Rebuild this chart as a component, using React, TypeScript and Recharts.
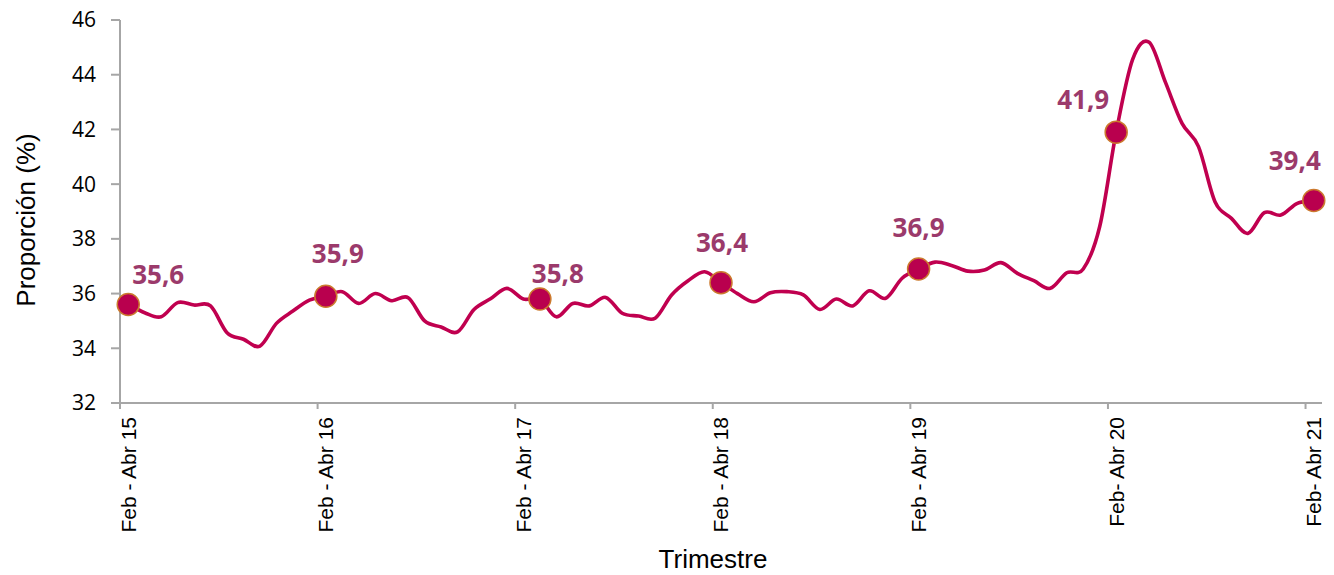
import React from "react";
import { LineChart, Line, XAxis, YAxis } from "recharts";

// rolling quarter, monthly, Feb-Abr 15 .. Feb-Abr 21
const values = [
  35.6, 35.3, 35.15, 35.67, 35.58, 35.55, 34.57, 34.33, 34.08, 34.91, 35.36, 35.76,
  35.9, 36.07, 35.64, 36.0, 35.74, 35.85, 35.0, 34.78, 34.6, 35.42, 35.81, 36.19,
  35.8, 35.8, 35.15, 35.64, 35.55, 35.86, 35.28, 35.18, 35.1, 35.95, 36.47, 36.8,
  36.4, 36.0, 35.7, 36.03, 36.07, 35.95, 35.42, 35.8, 35.55, 36.1, 35.83, 36.56,
  36.9, 37.15, 37.03, 36.82, 36.86, 37.13, 36.74, 36.47, 36.19, 36.76, 36.9, 38.45,
  41.9, 44.56, 45.19, 43.71, 42.22, 41.37, 39.36, 38.75, 38.2, 38.96, 38.87, 39.3,
  39.4,
];

const tickLabels = [
  "Feb - Abr 15",
  "Feb - Abr 16",
  "Feb - Abr 17",
  "Feb - Abr 18",
  "Feb - Abr 19",
  "Feb- Abr 20",
  "Feb- Abr 21",
];
const tickPositions = [0, 12, 24, 36, 48, 60, 72];

// months that carry a marker and a value label
const markedIndex = [0, 12, 25, 36, 48, 60, 72];

const yTicks = [32, 34, 36, 38, 40, 42, 44, 46];

const data = values.map((v, i) => ({ x: i + 0.5, v }));

// label offsets from the marker centre (text centre x, baseline y)
const labelOffsets: [number, number][] = [
  [30, -21],
  [12, -33],
  [18, -16],
  [1, -31],
  [0, -32],
  [-33, -23],
  [-19, -31],
];

const W = 1334;
const H = 575;
const M = { top: 20, right: 12, left: 0, bottom: 0 };
const Y_W = 120;
const X_H = 172;
const band = (W - M.left - M.right - Y_W) / values.length;

const LINE = "#c0004f";
const MARK = "#b9004e";
const MARK_EDGE = "#cc7a2e";
const LABEL = "#9b3a6b";
const AXIS = "#a6a6a6";

// Catmull-Rom style smoothing, close to Excel's smoothed line
const smooth = (context: any) => {
  let pts: number[][] = [];
  return {
    areaStart() {},
    areaEnd() {},
    lineStart() {
      pts = [];
    },
    point(x: number, y: number) {
      pts.push([+x, +y]);
    },
    lineEnd() {
      const n = pts.length;
      if (!n) return;
      context.moveTo(pts[0][0], pts[0][1]);
      for (let i = 0; i < n - 1; i++) {
        const p0 = pts[Math.max(0, i - 1)];
        const p1 = pts[i];
        const p2 = pts[i + 1];
        const p3 = pts[Math.min(n - 1, i + 2)];
        context.bezierCurveTo(
          p1[0] + (p2[0] - p0[0]) / 6,
          p1[1] + (p2[1] - p0[1]) / 6,
          p2[0] - (p3[0] - p1[0]) / 6,
          p2[1] - (p3[1] - p1[1]) / 6,
          p2[0],
          p2[1]
        );
      }
    },
  };
};

const MarkerDot = (props: any) => {
  const { cx, cy, index, payload } = props;
  const k = markedIndex.indexOf(index);
  if (k < 0) return <g key={`d-${index}`} />;
  const [dx, dy] = labelOffsets[k];
  return (
    <g key={`d-${index}`}>
      <circle cx={cx} cy={cy} r={11} fill={MARK} stroke={MARK_EDGE} strokeWidth={1.5} />
      <text
        x={cx + dx}
        y={cy + dy}
        textAnchor="middle"
        fill={LABEL}
        fontSize={26}
        fontWeight={700}
        fontFamily="'Open Sans', sans-serif"
      >
        {payload.v.toFixed(1).replace(".", ",")}
      </text>
    </g>
  );
};

const XTick = (props: any) => {
  const { x, y, payload } = props;
  const k = tickPositions.indexOf(payload.value);
  if (k < 0) return null;
  const cx = x + band / 2;
  const ty = y + 6;
  return (
    <text
      x={cx}
      y={ty}
      dy="0.35em"
      transform={`rotate(-90, ${cx}, ${ty})`}
      textAnchor="end"
      fill="#000"
      fontSize={21}
      fontFamily="'Liberation Sans', Arial, sans-serif"
    >
      {tickLabels[k]}
    </text>
  );
};

export default function App() {
  return (
    <div style={{ position: "absolute", left: 0, top: 0, width: W, height: H, background: "#fff" }}>
      <LineChart width={W} height={H} data={data} margin={M}>
        <XAxis
          dataKey="x"
          type="number"
          domain={[0, values.length]}
          ticks={tickPositions}
          interval={0}
          height={X_H}
          tick={<XTick />}
          tickSize={6}
          axisLine={{ stroke: AXIS, strokeWidth: 2 }}
          tickLine={{ stroke: AXIS, strokeWidth: 2 }}
          label={{
            content: () => (
              <text
                x={713}
                y={568}
                textAnchor="middle"
                fill="#000"
                fontSize={26}
                fontFamily="'Liberation Sans', Arial, sans-serif"
              >
                Trimestre
              </text>
            ),
          }}
        />
        <YAxis
          width={Y_W}
          domain={[32, 46]}
          ticks={yTicks}
          interval={0}
          tickSize={9}
          tickMargin={15}
          tick={{ fill: "#000", fontSize: 21, fontFamily: "'Open Sans', sans-serif" }}
          axisLine={{ stroke: AXIS, strokeWidth: 2 }}
          tickLine={{ stroke: AXIS, strokeWidth: 2 }}
          label={{
            content: () => (
              <text
                x={35}
                y={220}
                transform="rotate(-90, 35, 220)"
                textAnchor="middle"
                fill="#000"
                fontSize={26}
                fontFamily="'Liberation Sans', Arial, sans-serif"
              >
                Proporción (%)
              </text>
            ),
          }}
        />
        <Line
          dataKey="v"
          type={smooth as any}
          stroke={LINE}
          strokeWidth={3.6}
          dot={MarkerDot}
          activeDot={false}
          isAnimationActive={false}
        />
      </LineChart>
    </div>
  );
}
